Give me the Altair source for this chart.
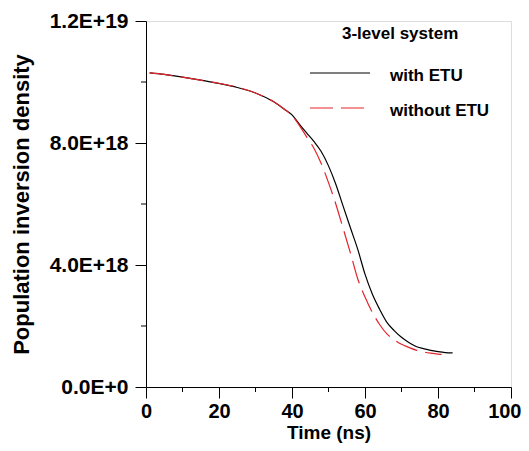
import altair as alt
import pandas as pd

# ---- data (values in units of 1E18) ----
t_with = [1, 5, 10, 15, 20, 25, 30, 35, 38, 40, 42, 44, 46, 48, 50, 52, 54, 56, 58,
          60, 62, 64, 66, 68, 70, 72, 74, 76, 78, 80, 82, 84]
n_with = [10.30, 10.25, 10.16, 10.06, 9.95, 9.82, 9.64, 9.35, 9.10, 8.92, 8.62, 8.33,
          8.05, 7.72, 7.25, 6.65, 5.93, 5.22, 4.52, 3.70, 3.05, 2.55, 2.12, 1.85,
          1.63, 1.46, 1.33, 1.26, 1.20, 1.16, 1.13, 1.12]

t_without = [1, 5, 10, 15, 20, 25, 30, 35, 38, 40, 42, 44, 46, 48, 50, 52, 54, 56, 58,
             60, 62, 64, 66, 68, 70, 72, 74, 76, 78, 80, 81]
n_without = [10.30, 10.25, 10.16, 10.06, 9.96, 9.83, 9.64, 9.35, 9.10, 8.90, 8.58, 8.20,
             7.83, 7.33, 6.70, 6.00, 5.20, 4.40, 3.55, 2.95, 2.45, 2.05, 1.74, 1.55,
             1.40, 1.30, 1.21, 1.15, 1.11, 1.08, 1.07]

x_major = [0, 20, 40, 60, 80, 100]
x_minor = [10, 30, 50, 70, 90]
y_major = [0, 4, 8, 12]
y_minor = [2, 6, 10]

legend_title = "3-level system"
series_names = ["with ETU", "without ETU"]
series_colors = ["#000000", "#e3242b"]

SCALE = 1e18
df_with = pd.DataFrame({"t": t_with, "n": [v * SCALE for v in n_with]})
df_without = pd.DataFrame({"t": t_without, "n": [v * SCALE for v in n_without]})
df_xminor = pd.DataFrame({"t": x_minor})
df_yminor = pd.DataFrame({"n": [v * SCALE for v in y_minor]})

W, H = 365, 366
FONT = "Liberation Sans"

xscale = alt.Scale(domain=[0, 100], nice=False, zero=False)
yscale = alt.Scale(domain=[0, 12 * SCALE], nice=False)

xaxis = alt.Axis(
    title="Time (ns)", values=x_major, grid=False, tickSize=11, labelFlush=False,
    labelFont=FONT, labelFontSize=20, labelFontWeight="bold", labelColor="black",
    labelPadding=3, domainColor="black", tickColor="black",
    labelAlign={"condition": {"test": "datum.value == 100", "value": "right"}, "value": "center"},
    labelOffset={"condition": {"test": "datum.value == 100", "value": 10}, "value": 0},
    titleFont=FONT, titleFontSize=19, titleFontWeight="bold", titleColor="black",
    titleBaseline="alphabetic", titleY=51.5,
)
yaxis = alt.Axis(
    title="Population inversion density", values=[v * SCALE for v in y_major],
    grid=False, tickSize=11, labelFlush=False,
    labelExpr="upper(format(datum.value, '.1e'))",
    labelFont=FONT, labelFontSize=21, labelFontWeight="bold", labelColor="black",
    labelPadding=7, domainColor="black", tickColor="black",
    titleFont=FONT, titleFontSize=22, titleFontWeight="bold", titleColor="black",
    titleBaseline="alphabetic", titleX=-118, titleY=H / 2, titleAlign="center",
)

line_with = alt.Chart(df_with).mark_line(
    color=series_colors[0], strokeWidth=1.2, interpolate="monotone"
).encode(
    x=alt.X("t:Q", scale=xscale, axis=xaxis),
    y=alt.Y("n:Q", scale=yscale, axis=yaxis),
)
line_without = alt.Chart(df_without).mark_line(
    color=series_colors[1], strokeWidth=1.2, strokeDash=[23, 8], interpolate="monotone"
).encode(
    x=alt.X("t:Q", scale=xscale),
    y=alt.Y("n:Q", scale=yscale),
)

xminor = alt.Chart(df_xminor).mark_rule(color="black", strokeWidth=1).encode(
    x=alt.X("t:Q", scale=xscale),
    y=alt.value(H), y2=alt.value(H + 5),
)
yminor = alt.Chart(df_yminor).mark_rule(color="black", strokeWidth=1).encode(
    y=alt.Y("n:Q", scale=yscale),
    x=alt.value(-5), x2=alt.value(0),
)

# ---- legend (hand-built) ----
leg_title = alt.Chart(pd.DataFrame({"label": [legend_title]})).mark_text(
    font=FONT, fontSize=17, fontWeight="bold", align="left", baseline="alphabetic",
    color="black"
).encode(text="label:N", x=alt.value(196), y=alt.value(18))

leg_line1 = alt.Chart(pd.DataFrame({"k": [series_names[0]]})).mark_rule(
    color=series_colors[0], strokeWidth=1.2
).encode(x=alt.value(164), x2=alt.value(224), y=alt.value(52))
leg_line2 = alt.Chart(pd.DataFrame({"k": [series_names[1]]})).mark_rule(
    color=series_colors[1], strokeWidth=1.2, strokeDash=[23, 8]
).encode(x=alt.value(164), x2=alt.value(219), y=alt.value(87))

leg_lab1 = alt.Chart(pd.DataFrame({"label": [series_names[0]]})).mark_text(
    font=FONT, fontSize=17, fontWeight="bold", align="left", baseline="alphabetic",
    color="black"
).encode(text="label:N", x=alt.value(244), y=alt.value(60))
leg_lab2 = alt.Chart(pd.DataFrame({"label": [series_names[1]]})).mark_text(
    font=FONT, fontSize=17, fontWeight="bold", align="left", baseline="alphabetic",
    color="black"
).encode(text="label:N", x=alt.value(244), y=alt.value(95))

chart = alt.layer(
    line_with, line_without, xminor, yminor,
    leg_title, leg_line1, leg_line2, leg_lab1, leg_lab2,
).properties(
    width=W, height=H,
    autosize=alt.AutoSizeParams(type="none"),
    padding={"left": 138, "top": 13, "right": 10, "bottom": 56},
).configure_view(stroke=None).configure(background="white")

chart.save("out.html", embed_options={"renderer": "svg", "actions": False})
